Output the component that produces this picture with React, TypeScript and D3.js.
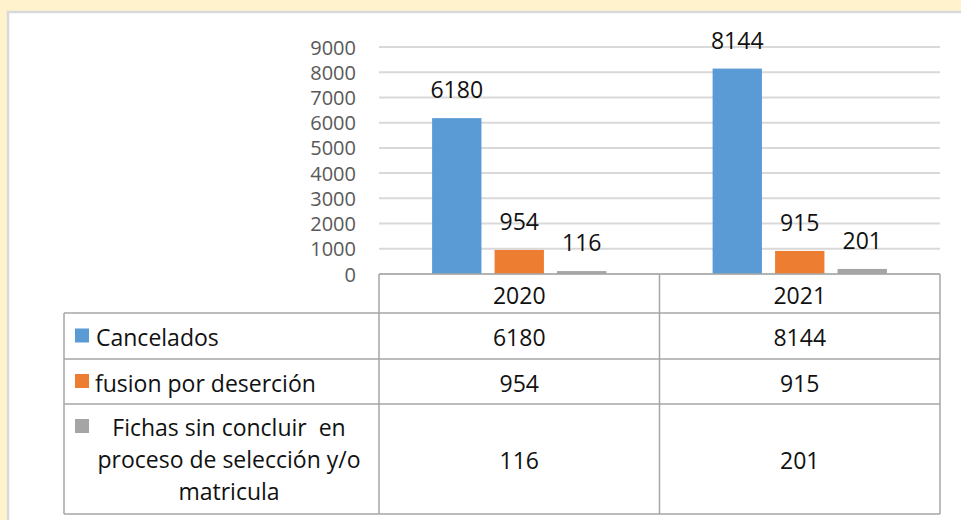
import React from "react";
import * as d3 from "d3";

const years = ["2020", "2021"];
const seriesNames = ["Cancelados", "fusion por deserción", "Fichas sin concluir  en proceso de selección y/o matricula"];
const seriesKeys = ["cancelados", "fusion", "fichas"];
const cancelados = [6180, 8144];
const fusion = [954, 915];
const fichas = [116, 201];
const yTicks = [0, 1000, 2000, 3000, 4000, 5000, 6000, 7000, 8000, 9000];
const colors = ["#5b9bd5", "#ed7d31", "#a5a5a5"];
const fichasLines = ["Fichas sin concluir  en", "proceso de selección y/o", "matricula"];

const W = 961;
const H = 520;
const FONT = "'Open Sans', sans-serif";
const FS = 23;

export default function App() {
  const values = [cancelados, fusion, fichas];
  const plotLeft = 379;
  const plotRight = 940;
  const y = d3.scaleLinear().domain([0, 9000]).range([274, 47]);
  const x0 = d3.scaleBand<string>().domain(years).range([plotLeft, plotRight]).paddingInner(0).paddingOuter(0);
  const x1 = d3
    .scaleBand<string>()
    .domain(seriesKeys)
    .range([0, x0.bandwidth()])
    .paddingInner(0.21)
    .paddingOuter(0.85);

  // table geometry
  const tLeft = 64;
  const tSplit = plotLeft;
  const tRight = plotRight;
  const rowEdges = [274, 313, 359, 404, 514];
  const rowCenter = (i: number) => (rowEdges[i] + rowEdges[i + 1]) / 2;
  const lineColor = "#a6a6a6";
  const keyX = 75;
  const keySize = 14;

  return (
    <div style={{ position: "absolute", left: 0, top: 0 }}>
      <svg width={W} height={H} style={{ display: "block" }}>
        <rect x={0} y={0} width={W} height={H} fill="#fff2cc" />
        <rect x={8} y={12} width={W} height={H} fill="#ffffff" stroke="#d9d9d9" strokeWidth={2.5} />

        {/* gridlines */}
        {yTicks.map((t) => (
          <line key={"g" + t} x1={plotLeft} x2={plotRight} y1={y(t)} y2={y(t)} stroke="#d9d9d9" strokeWidth={2} />
        ))}
        {/* y axis labels */}
        {yTicks.map((t) => (
          <text
            key={"yl" + t}
            x={356}
            y={y(t) + 7.5}
            textAnchor="end"
            fontFamily={FONT}
            fontSize={20}
            fill="#595959"
          >
            {t}
          </text>
        ))}

        {/* bars */}
        {years.map((yr, i) =>
          seriesKeys.map((k, s) => {
            const v = values[s][i];
            const bx = (x0(yr) as number) + (x1(k) as number);
            const bw = x1.bandwidth();
            return (
              <g key={yr + k}>
                <rect x={bx} y={y(v)} width={bw} height={y(0) - y(v)} fill={colors[s]} />
                <text
                  x={bx + bw / 2}
                  y={y(v) - 20}
                  textAnchor="middle"
                  fontFamily={FONT}
                  fontSize={FS}
                  fill="#111"
                >
                  {v}
                </text>
              </g>
            );
          })
        )}

        {/* table lines */}
        <g stroke={lineColor} strokeWidth={1.5} fill="none">
          <line x1={tSplit} x2={tRight} y1={rowEdges[0]} y2={rowEdges[0]} />
          {rowEdges.slice(1).map((ry) => (
            <line key={"r" + ry} x1={tLeft} x2={tRight} y1={ry} y2={ry} />
          ))}
          <line x1={tLeft} x2={tLeft} y1={rowEdges[1]} y2={rowEdges[4]} />
          <line x1={tSplit} x2={tSplit} y1={rowEdges[0]} y2={rowEdges[4]} />
          <line
            x1={(x0(years[1]) as number)}
            x2={(x0(years[1]) as number)}
            y1={rowEdges[0]}
            y2={rowEdges[4]}
          />
          <line x1={tRight} x2={tRight} y1={rowEdges[0]} y2={rowEdges[4]} />
        </g>

        {/* header row */}
        {years.map((yr) => (
          <text
            key={"h" + yr}
            x={(x0(yr) as number) + x0.bandwidth() / 2}
            y={rowCenter(0) + 10}
            textAnchor="middle"
            fontFamily={FONT}
            fontSize={FS}
            fill="#111"
          >
            {yr}
          </text>
        ))}

        {/* data rows */}
        {seriesKeys.map((k, s) =>
          years.map((yr, i) => (
            <text
              key={"c" + k + yr}
              x={(x0(yr) as number) + x0.bandwidth() / 2}
              y={rowCenter(s + 1) + 10}
              textAnchor="middle"
              fontFamily={FONT}
              fontSize={FS}
              fill="#111"
            >
              {values[s][i]}
            </text>
          ))
        )}

        {/* legend keys + labels */}
        <rect x={keyX} y={rowCenter(1) - 7.5} width={keySize} height={keySize} fill={colors[0]} />
        <text x={96} y={rowCenter(1) + 10} fontFamily={FONT} fontSize={FS} fill="#111">
          {seriesNames[0]}
        </text>
        <rect x={keyX} y={rowCenter(2) - 7.5} width={keySize} height={keySize} fill={colors[1]} />
        <text x={95} y={rowCenter(2) + 10} fontFamily={FONT} fontSize={FS} fill="#111">
          {seriesNames[1]}
        </text>
        <rect x={keyX} y={rowCenter(3) - 40} width={keySize} height={keySize} fill={colors[2]} />
        {fichasLines.map((ln, j) => (
          <text
            key={"f" + j}
            x={229}
            y={rowCenter(3) + 8.5 + (j - 1) * 32}
            textAnchor="middle"
            fontFamily={FONT}
            fontSize={FS}
            fill="#111"
            style={{ whiteSpace: "pre" }}
          >
            {ln}
          </text>
        ))}
      </svg>
    </div>
  );
}
